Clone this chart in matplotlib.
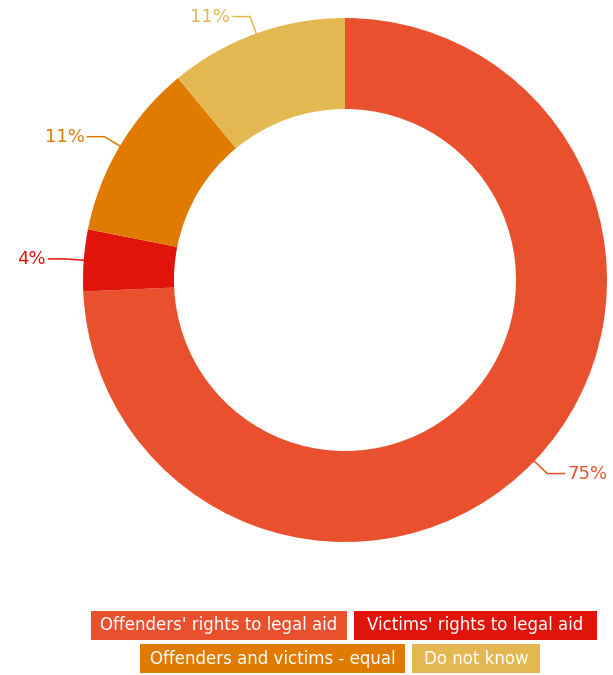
import matplotlib
matplotlib.use("Agg")
import matplotlib.pyplot as plt
import numpy as np
from matplotlib.patches import Rectangle

plt.rcParams['font.family'] = ['Liberation Sans Narrow', 'DejaVu Sans']

categories = ["Offenders' rights to legal aid", "Victims' rights to legal aid",
              "Offenders and victims - equal", "Do not know"]
values = [74.3, 3.8, 10.9, 11.0]
labels = ['75%', '4%', '11%', '11%']
colors = ['#E8502E', '#E0140B', '#E07B00', '#E3B850']

fig = plt.figure(figsize=(6.13, 6.75), dpi=100)
ax = fig.add_axes([0, 0, 1, 1])

cx, cy, r = 345, 395, 262
ax.pie(values, colors=colors, startangle=90, counterclock=False,
       center=(cx, cy), radius=r, frame=True,
       wedgeprops=dict(width=91, linewidth=0))
ax.set_xlim(0, 613)
ax.set_ylim(0, 675)
ax.set_aspect('equal')
ax.axis('off')

# data labels with elbow connectors
start = 0
for v, lab, c in zip(values, labels, colors):
    mid = start + v / 2
    start += v
    ang = np.deg2rad(90 - mid * 3.6)
    x0, y0 = cx + r * np.cos(ang), cy + r * np.sin(ang)
    x1, y1 = cx + (r + 18) * np.cos(ang), cy + (r + 18) * np.sin(ang)
    side = 1 if np.cos(ang) > 0 else -1
    x2 = x1 + side * 17
    ax.plot([x0, x1, x2], [y0, y1, y1], color=c, lw=1.1, solid_joinstyle='miter')
    ax.text(x2 + side * 3, y1, lab, color=c, fontsize=13,
            ha='left' if side > 0 else 'right', va='center')

# legend boxes
boxes = [(91, 35, 256), (354, 35, 243), (140, 2, 265), (412, 2, 128)]
for (bx, by, bw), name, c in zip(boxes, categories, colors):
    ax.add_patch(Rectangle((bx, by), bw, 29, facecolor=c, edgecolor='none'))
    ax.text(bx + bw / 2, by + 14.5, name, color='white', fontsize=12,
            ha='center', va='center')

fig.savefig('out.png', dpi=100)
